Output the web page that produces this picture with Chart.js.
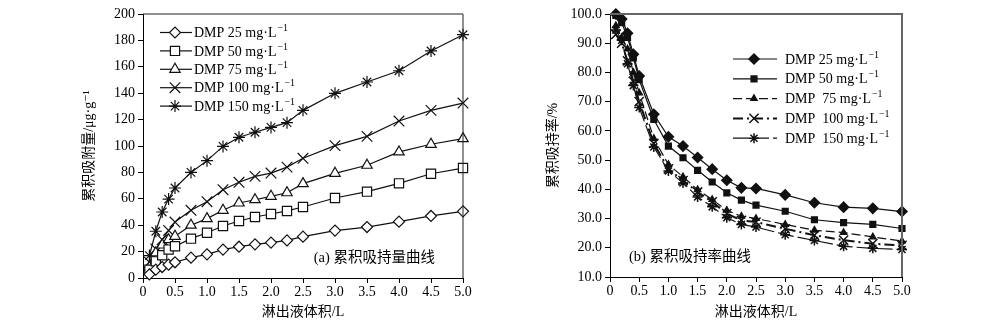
<!DOCTYPE html>
<html>
<head>
<meta charset="utf-8">
<script src="https://cdn.jsdelivr.net/npm/chart.js@4.4.1/dist/chart.umd.min.js"></script>
<style>
  html, body { margin: 0; padding: 0; background: #fff; }
  #wrap { position: relative; width: 993px; height: 331px; }
  canvas { position: absolute; top: 0; }
  #amount-chart { left: 0; }
  #rate-chart { left: 500px; }
</style>
</head>
<body>
<div id="wrap">
  <canvas id="amount-chart" width="500" height="331"></canvas>
  <canvas id="rate-chart" width="493" height="331"></canvas>
</div>
<script>
// eluate volume, L
const volumes = [0.1, 0.2, 0.3, 0.4, 0.5, 0.75, 1.0, 1.25, 1.5, 1.75, 2.0, 2.25, 2.5, 3.0, 3.5, 4.0, 4.5, 5.0];

// cumulative amount held, μg/g
const amount25 = [2.8, 6.3, 8.3, 10.1, 11.9, 15.4, 17.9, 21.5, 23.7, 25.5, 26.8, 28.5, 31.3, 35.9, 38.6, 42.7, 47.0, 50.5];
const amount50 = [6.3, 12.6, 17.2, 21.5, 24.0, 29.8, 34.3, 39.4, 43.2, 46.2, 48.5, 50.8, 53.8, 60.6, 65.4, 71.7, 79.0, 83.3];
const amount75 = [8.0, 19.0, 25.0, 29.0, 31.6, 40.0, 45.0, 51.3, 56.8, 59.3, 61.9, 64.6, 71.5, 79.3, 85.4, 95.5, 101.3, 105.6];
const amount100 = [12.0, 22.0, 29.0, 36.0, 42.4, 51.3, 57.8, 66.9, 72.5, 77.0, 79.5, 84.0, 90.7, 100.3, 107.3, 118.9, 127.0, 132.5];
const amount150 = [17.0, 35.4, 50.0, 59.8, 68.2, 80.0, 88.9, 99.7, 106.6, 110.4, 114.1, 117.7, 127.0, 139.9, 148.5, 157.0, 172.0, 184.3];

// cumulative retention rate, %
const rate25 = [100.0, 98.3, 93.4, 86.2, 78.8, 65.7, 58.0, 54.8, 50.9, 46.9, 43.1, 40.5, 40.3, 38.1, 35.4, 33.9, 33.5, 32.4];
const rate50 = [99.5, 97.0, 92.0, 85.0, 77.5, 63.9, 54.8, 50.8, 46.5, 42.5, 38.8, 36.3, 34.6, 32.5, 29.6, 28.6, 28.0, 26.6];
const rate75 = [96.0, 92.0, 88.0, 80.0, 73.0, 57.4, 48.5, 44.3, 39.9, 36.5, 32.8, 30.8, 30.0, 28.0, 26.0, 25.2, 23.7, 22.3];
const rate100 = [93.0, 90.0, 84.0, 77.0, 70.0, 55.7, 47.0, 43.0, 39.1, 35.7, 31.7, 29.4, 28.8, 26.5, 24.3, 22.6, 21.4, 20.8];
const rate150 = [94.5, 91.0, 83.0, 75.5, 68.0, 54.5, 46.3, 42.2, 37.4, 34.0, 30.3, 28.0, 27.1, 24.5, 22.5, 20.5, 19.8, 19.4];

const amountLabels = ['DMP 25 mg·L', 'DMP 50 mg·L', 'DMP 75 mg·L', 'DMP 100 mg·L', 'DMP 150 mg·L'];
const rateLabels = ['DMP 25 mg·L', 'DMP 50 mg·L', 'DMP  75 mg·L', 'DMP  100 mg·L', 'DMP  150 mg·L'];

const SERIF = "'Liberation Serif', 'DejaVu Serif', 'Noto Sans CJK SC', serif";
Chart.defaults.font.family = SERIF;
Chart.defaults.color = '#000';

function points(values) {
  return volumes.map((v, i) => ({ x: v, y: values[i] }));
}

function tickFmt(v) {
  return v === 0 ? '0' : v.toFixed(1);
}

// legend rows: line sample, marker, label with superscript
function lineLegend(opts) {
  return {
    id: 'lineLegend',
    afterDraw(chart) {
      const { ctx, chartArea: area } = chart;
      ctx.save();
      chart.data.datasets.forEach((ds, i) => {
        const y = area.top + opts.top + i * opts.gap;
        const x0 = area.left + opts.left;
        ctx.strokeStyle = ds.borderColor;
        ctx.lineWidth = ds.borderWidth;
        ctx.setLineDash(ds.borderDash || []);
        ctx.beginPath();
        ctx.moveTo(x0, y);
        ctx.lineTo(x0 + opts.lineLen, y);
        ctx.stroke();
        ctx.setLineDash([]);
        ctx.fillStyle = ds.pointBackgroundColor;
        ctx.strokeStyle = ds.pointBorderColor;
        ctx.lineWidth = ds.pointBorderWidth;
        Chart.helpers.drawPoint(ctx, {
          pointStyle: ds.pointStyle, radius: ds.pointRadius, rotation: 0, borderWidth: ds.pointBorderWidth
        }, x0 + opts.markAt, y);

        const tx = x0 + opts.lineLen + opts.textGap;
        ctx.fillStyle = '#000';
        ctx.textAlign = 'left';
        ctx.textBaseline = 'middle';
        ctx.font = '14px ' + SERIF;
        ctx.fillText(ds.label, tx, y + 1);
        const w = ctx.measureText(ds.label).width;
        ctx.font = '10px ' + SERIF;
        ctx.fillText('−1', tx + w + 1, y - 4);
      });
      ctx.restore();
    }
  };
}

function caption(text, opts) {
  return {
    id: 'caption',
    afterDraw(chart) {
      const { ctx, chartArea: area } = chart;
      ctx.save();
      ctx.fillStyle = '#000';
      ctx.font = '14.5px ' + SERIF;
      ctx.textBaseline = 'middle';
      if (opts.right != null) {
        ctx.textAlign = 'right';
        ctx.fillText(text, area.right - opts.right, area.bottom - opts.bottom);
      } else {
        ctx.textAlign = 'left';
        ctx.fillText(text, area.left + opts.left, area.bottom - opts.bottom);
      }
      ctx.restore();
    }
  };
}

// top and right sides of the plot box
function frame(color, width) {
  return {
    id: 'frame',
    afterDraw(chart) {
      const { ctx, chartArea: a } = chart;
      ctx.save();
      ctx.strokeStyle = color;
      ctx.lineWidth = width;
      ctx.beginPath();
      ctx.moveTo(a.left, a.top);
      ctx.lineTo(a.right, a.top);
      ctx.lineTo(a.right, a.bottom);
      ctx.stroke();
      ctx.restore();
    }
  };
}

function axisX(height, titlePad) {
  return {
    type: 'linear', min: 0, max: 5,
    ticks: { stepSize: 0.5, callback: tickFmt, font: { size: 14 }, padding: 1, maxRotation: 0 },
    grid: { drawOnChartArea: false, drawTicks: true, tickLength: 5, color: '#000' },
    border: { color: '#000', width: 1 },
    title: { display: true, text: '淋出液体积/L', font: { size: 14 }, padding: { top: 0, bottom: titlePad } },
    afterFit(scale) { scale.height = height; }
  };
}

function axisY(min, max, step, fmt, width, title, titlePad) {
  return {
    min: min, max: max,
    ticks: { stepSize: step, callback: fmt, font: { size: 14 }, padding: 3 },
    grid: { drawOnChartArea: false, drawTicks: true, tickLength: 5, color: '#000' },
    border: { color: '#000', width: 1 },
    title: { display: true, text: title, font: { size: 14 }, padding: { top: titlePad, bottom: 0 } },
    afterFit(scale) { scale.width = width; }
  };
}

function commonOptions() {
  return {
    responsive: false,
    devicePixelRatio: 1,
    animation: false,
    plugins: { legend: { display: false }, tooltip: { enabled: false } },
    elements: { line: { tension: 0 } }
  };
}

// (a) cumulative amount, open markers
const amountStyles = [
  { pointStyle: 'rectRot', pointRadius: 5.5 },
  { pointStyle: 'rect', pointRadius: 6.5 },
  { pointStyle: 'triangle', pointRadius: 6 },
  { pointStyle: 'crossRot', pointRadius: 7.5 },
  { pointStyle: 'star', pointRadius: 6 }
];
const amountSeries = [amount25, amount50, amount75, amount100, amount150];

new Chart(document.getElementById('amount-chart'), {
  type: 'scatter',
  data: {
    datasets: amountSeries.map((vals, i) => ({
      label: amountLabels[i],
      data: points(vals),
      showLine: true,
      borderColor: '#111',
      borderWidth: 1.2,
      pointBackgroundColor: '#fff',
      pointBorderColor: '#111',
      pointBorderWidth: 1.2,
      clip: false,
      ...amountStyles[i]
    }))
  },
  options: {
    ...commonOptions(),
    layout: { padding: { top: 14, right: 37, left: 0, bottom: 0 } },
    scales: {
      x: axisX(53, 10),
      y: axisY(0, 200, 20, v => String(v), 143, '累积吸附量/μg·g⁻¹', 81)
    }
  },
  plugins: [
    frame('#222', 1),
    lineLegend({ left: 17, top: 18.5, gap: 18.4, lineLen: 32, markAt: 15, textGap: 2 }),
    caption('(a) 累积吸持量曲线', { right: 28, bottom: 20 })
  ]
});

// (b) cumulative retention rate, filled markers and dashed lines
const rateStyles = [
  { pointStyle: 'rectRot', pointRadius: 5, borderWidth: 1.2, borderDash: [] },
  { pointStyle: 'rect', pointRadius: 4, borderWidth: 1.2, borderDash: [] },
  { pointStyle: 'triangle', pointRadius: 3.5, borderWidth: 1.2, borderDash: [9, 4] },
  { pointStyle: 'crossRot', pointRadius: 6.5, borderWidth: 2, borderDash: [10, 4, 2, 4] },
  { pointStyle: 'star', pointRadius: 5, borderWidth: 1.2, borderDash: [16, 4] }
];
const rateSeries = [rate25, rate50, rate75, rate100, rate150];

new Chart(document.getElementById('rate-chart'), {
  type: 'scatter',
  data: {
    datasets: rateSeries.map((vals, i) => ({
      label: rateLabels[i],
      data: points(vals),
      showLine: true,
      borderColor: '#111',
      pointBackgroundColor: '#111',
      pointBorderColor: '#111',
      pointBorderWidth: 1.5,
      clip: false,
      ...rateStyles[i]
    }))
  },
  options: {
    ...commonOptions(),
    layout: { padding: { top: 14, right: 91, left: 0, bottom: 0 } },
    scales: {
      x: axisX(54, 10),
      y: axisY(10, 100, 10, v => v.toFixed(1), 110, '累积吸持率/%', 45)
    }
  },
  plugins: [
    frame('#666', 2),
    lineLegend({ left: 123, top: 45, gap: 19.8, lineLen: 44, markAt: 21, textGap: 8 }),
    caption('(b) 累积吸持率曲线', { left: 19, bottom: 20 })
  ]
});
</script>
</body>
</html>
